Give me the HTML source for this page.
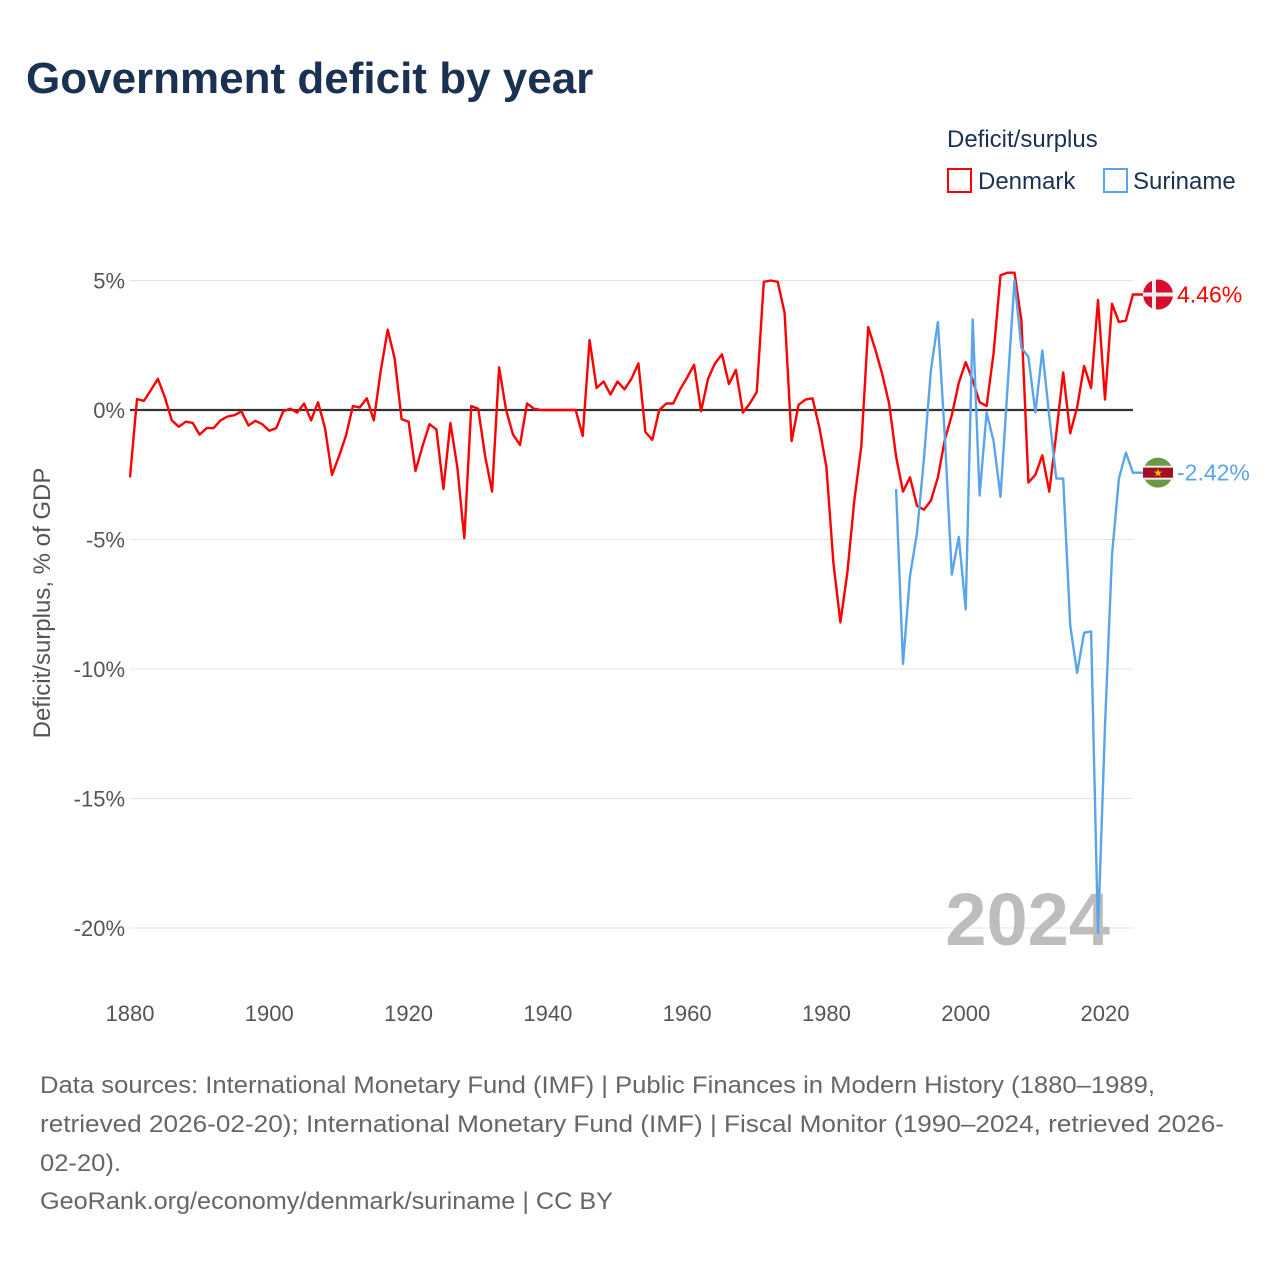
<!DOCTYPE html>
<html><head><meta charset="utf-8"><style>
body{margin:0;background:#fff;font-family:"Liberation Sans",sans-serif}
#wrap{position:relative;width:1280px;height:1280px;overflow:hidden}
</style></head><body>
<div id="wrap">
<svg id="chart" width="1280" height="1280" xmlns="http://www.w3.org/2000/svg">
<text x="26" y="93" font-size="44" font-weight="bold" fill="#1b3152">Government deficit by year</text>
<text x="947" y="147" font-size="24" fill="#1b3152">Deficit/surplus</text>
<g><rect x="948" y="169" width="23" height="23" fill="none" stroke="#f00" stroke-width="2"/><text x="978" y="189" font-size="24" fill="#1b3152">Denmark</text></g>
<g><rect x="1104" y="169" width="23" height="23" fill="none" stroke="#5aa5ea" stroke-width="2"/><text x="1133" y="189" font-size="24" fill="#1b3152">Suriname</text></g>
<g id="grid"></g><g id="yt"></g><g id="xt"></g>
<text x="1110" y="945" font-size="74" font-weight="bold" fill="#bdbdbd" text-anchor="end">2024</text>
<g id="series"></g>
<text transform="translate(50,603) rotate(-90)" font-size="24" fill="#555" text-anchor="middle">Deficit/surplus, % of GDP</text>
<g font-size="24" fill="#666">
<text x="40" y="1093" textLength="1115" lengthAdjust="spacingAndGlyphs">Data sources: International Monetary Fund (IMF) | Public Finances in Modern History (1880–1989,</text>
<text x="40" y="1132" textLength="1184" lengthAdjust="spacingAndGlyphs">retrieved 2026-02-20); International Monetary Fund (IMF) | Fiscal Monitor (1990–2024, retrieved 2026-</text>
<text x="40" y="1171" textLength="81" lengthAdjust="spacingAndGlyphs">02-20).</text>
<text x="40" y="1209" textLength="573" lengthAdjust="spacingAndGlyphs">GeoRank.org/economy/denmark/suriname | CC BY</text>
</g>
</svg></div>
<script>
const yTicks=[5,0,-5,-10,-15,-20];
const xTicks=[1880,1900,1920,1940,1960,1980,2000,2020];
const denStart=1880;
const denmark=[-2.6,0.42,0.35,0.77,1.2,0.5,-0.4,-0.65,-0.45,-0.5,-0.95,-0.7,-0.7,-0.4,-0.25,-0.2,-0.05,-0.6,-0.42,-0.55,
-0.8,-0.7,-0.05,0.05,-0.1,0.25,-0.4,0.3,-0.7,-2.5,-1.8,-1.0,0.15,0.1,0.45,-0.4,1.5,3.1,2.0,-0.35,
-0.45,-2.35,-1.4,-0.55,-0.75,-3.05,-0.5,-2.2,-4.95,0.15,0.05,-1.8,-3.15,1.65,0,-0.95,-1.35,0.25,0.05,0,
0,0,0,0,0,-1.0,2.7,0.85,1.1,0.6,1.1,0.8,1.2,1.8,-0.85,-1.15,0,0.25,0.25,0.8,
1.25,1.75,-0.05,1.2,1.8,2.15,1.0,1.55,-0.1,0.25,0.7,4.95,5.0,4.95,3.75,-1.2,0.2,0.4,0.45,-0.7,
-2.2,-5.9,-8.2,-6.3,-3.5,-1.4,3.2,2.35,1.4,0.25,-1.8,-3.15,-2.6,-3.7,-3.85,-3.5,-2.6,-1.15,-0.2,1.05,
1.85,1.15,0.3,0.15,2.2,5.2,5.3,5.3,3.45,-2.8,-2.5,-1.75,-3.15,-0.9,1.45,-0.9,0.1,1.7,0.85,4.25,
0.4,4.1,3.4,3.45,4.46];
const surStart=1990;
const suriname=[-3.05,-9.8,-6.4,-4.75,-1.9,1.55,3.4,-1.0,-6.35,-4.9,-7.7,3.5,-3.3,-0.1,-1.2,-3.35,0.85,5.0,2.4,2.05,
-0.1,2.3,-0.25,-2.65,-2.65,-8.3,-10.15,-8.6,-8.55,-20.2,-12.2,-5.6,-2.65,-1.65,-2.42];
const NS='http://www.w3.org/2000/svg';
const X=yr=>130+(yr-1880)*(975/140);
const Y=v=>410-v*25.9;
function mk(tag,attrs,parent){const e=document.createElementNS(NS,tag);for(const k in attrs)e.setAttribute(k,attrs[k]);parent.appendChild(e);return e;}
const grid=document.getElementById('grid'),yt=document.getElementById('yt'),xt=document.getElementById('xt'),ser=document.getElementById('series');
yTicks.forEach(v=>{
 const l=mk('line',{x1:130,x2:1133,y1:Y(v),y2:Y(v),stroke:'#e4e4e4','stroke-width':1},grid);
 
 
 const t=mk('text',{x:125,y:Y(v)+8,'font-size':22,fill:'#555','text-anchor':'end'},yt);
 t.textContent=v+'%';
 
 
});
xTicks.forEach(yr=>{
 const t=mk('text',{x:X(yr),y:1021,'font-size':22,fill:'#555','text-anchor':'middle'},xt);
 t.textContent=yr;
 
 
});
const z=mk('line',{x1:130,x2:1133,y1:Y(0),y2:Y(0),stroke:'#333','stroke-width':2.2},grid);


function line(arr,start,color,name){
 const pts=arr.map((v,i)=>X(start+i).toFixed(1)+','+Y(v).toFixed(1));
 const last=arr[arr.length-1];
 pts.push((X(start+arr.length-1)+10).toFixed(1)+','+Y(last).toFixed(1));
 const p=mk('polyline',{points:pts.join(' '),fill:'none',stroke:color,'stroke-width':2.4,'stroke-linejoin':'round'},ser);
 
 
 return Y(last);
}
const dy=line(denmark,denStart,'#ff0000','denmark-line');
const sy=line(suriname,surStart,'#5aa5ea','suriname-line');
const dg=mk('g',{},ser);


mk('circle',{cx:1158,cy:dy,r:15,fill:'#d80c2e'},dg);
mk('rect',{x:1143,y:dy-2,width:30,height:4,fill:'#eee'},dg);
mk('rect',{x:1152,y:dy-15,width:4,height:30,fill:'#eee'},dg);
const sg=mk('g',{},ser);


mk('circle',{cx:1158,cy:sy,r:15,fill:'#6a9a45'},sg);
mk('rect',{x:1143,y:sy-7,width:30,height:14,fill:'#eee'},sg);
mk('rect',{x:1143,y:sy-5,width:30,height:10,fill:'#a0101f'},sg);
const st=mk('text',{x:1158,y:sy+4,'font-size':11,fill:'#f4c300','text-anchor':'middle'},sg);st.textContent='★';
const dl=mk('text',{x:1177,y:dy+8,'font-size':23,fill:'#ff0000'},ser);
dl.textContent=denmark[denmark.length-1].toFixed(2)+'%';


const sl=mk('text',{x:1177,y:sy+8,'font-size':23,fill:'#5aa5ea'},ser);
sl.textContent=suriname[suriname.length-1].toFixed(2)+'%';


</script>
</body></html>
